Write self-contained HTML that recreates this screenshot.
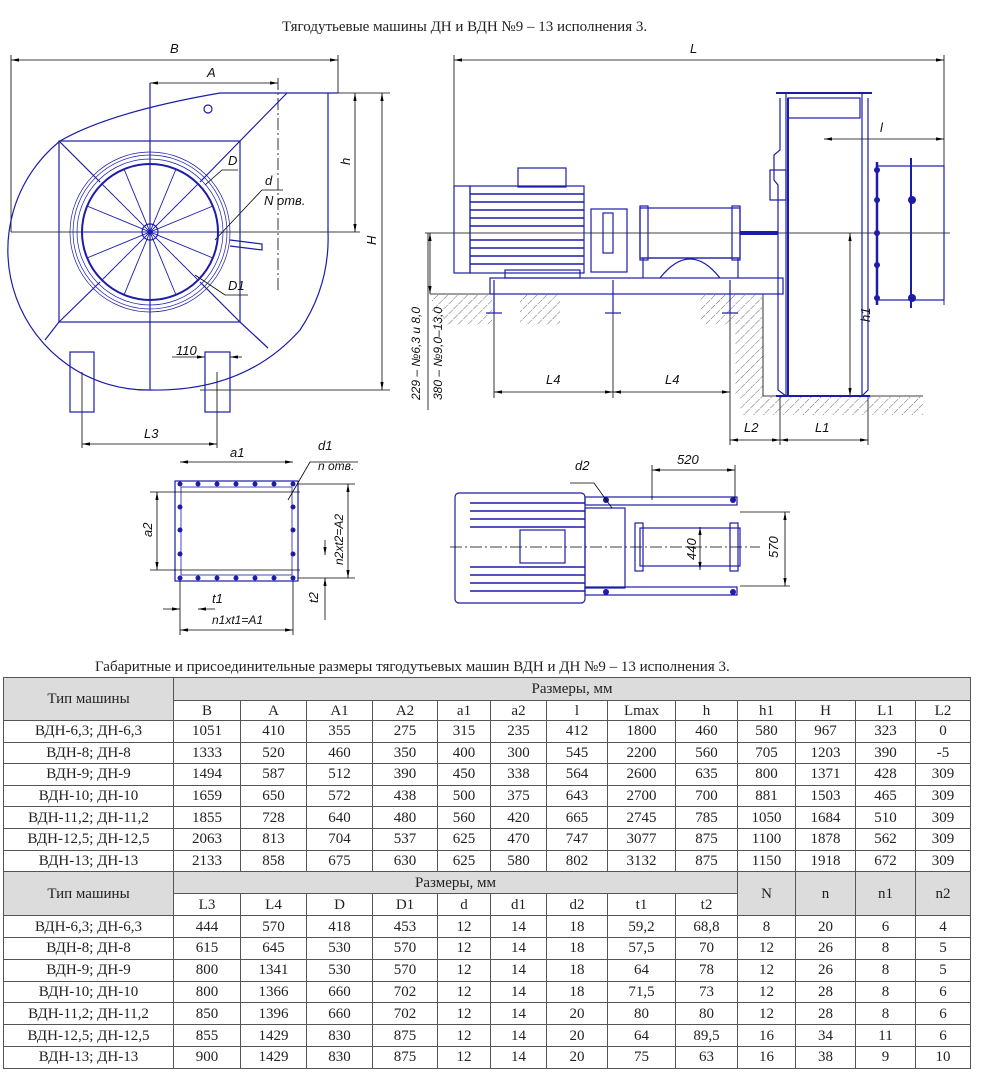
<!DOCTYPE html>
<html><head><meta charset="utf-8">
<style>
body{margin:0;background:#fff;width:981px;height:1080px;position:relative;overflow:hidden;font-family:"Liberation Serif",serif;}
svg{position:absolute;left:0;top:0}
.t{position:absolute;font-size:15px;color:#222;white-space:nowrap}
table{position:absolute;left:3px;top:677px;border-collapse:collapse;table-layout:fixed;font-family:"Liberation Serif",serif;font-size:15px;color:#222}
td{border:1px solid #555;text-align:center;padding:0;line-height:14px}
.g{background:#dcdcdc}
</style></head><body>
<div class="t" style="left:282px;top:19px">Тягодутьевые машины ДН и ВДН №9 – 13 исполнения 3.</div>
<svg width="981" height="660" viewBox="0 0 981 660" font-family="Liberation Sans, sans-serif" font-style="italic" font-size="13">
<defs>
<pattern id="h" width="7" height="7" patternUnits="userSpaceOnUse" patternTransform="rotate(45)"><line x1="0" y1="0" x2="0" y2="7" stroke="#444" stroke-width="0.8" stroke-dasharray="3 1"/></pattern>
<marker id="a" markerWidth="10" markerHeight="6" refX="10" refY="3" orient="auto-start-reverse"><path d="M0,1 L10,3 L0,5z" fill="#000"/></marker>
</defs>
<g stroke="#000" stroke-width="0.8" fill="none">
<!-- left view dims -->
<line x1="11" y1="60" x2="338" y2="60" marker-start="url(#a)" marker-end="url(#a)"/>
<line x1="11" y1="55" x2="11" y2="232"/><line x1="338" y1="55" x2="338" y2="93"/>
<line x1="150" y1="83" x2="278" y2="83" marker-start="url(#a)" marker-end="url(#a)"/>
<line x1="278" y1="78" x2="278" y2="290" stroke-dasharray="12 3 2 3"/>
<line x1="355" y1="93" x2="355" y2="232" marker-start="url(#a)" marker-end="url(#a)"/>
<line x1="382" y1="93" x2="382" y2="390" marker-start="url(#a)" marker-end="url(#a)"/>
<line x1="328" y1="93" x2="390" y2="93"/><line x1="200" y1="390" x2="390" y2="390"/>
<line x1="82" y1="444" x2="217" y2="444" marker-start="url(#a)" marker-end="url(#a)"/>
<line x1="82" y1="372" x2="82" y2="448"/><line x1="217" y1="372" x2="217" y2="448"/>
<line x1="172" y1="357" x2="205" y2="357" marker-end="url(#a)"/><line x1="242" y1="357" x2="230" y2="357" marker-end="url(#a)"/>
<polyline points="238,170 222,170 205,185"/><polyline points="283,190 262,190 215,240"/><polyline points="248,295 225,295 195,275"/>
<!-- right view dims -->
<line x1="454" y1="60" x2="944" y2="60" marker-start="url(#a)" marker-end="url(#a)"/>
<line x1="454" y1="55" x2="454" y2="190"/><line x1="944" y1="55" x2="944" y2="305"/>
<line x1="824" y1="139" x2="944" y2="139" marker-start="url(#a)" marker-end="url(#a)"/>
<line x1="850" y1="233" x2="850" y2="396" marker-start="url(#a)" marker-end="url(#a)"/>
<line x1="494" y1="392" x2="613" y2="392" marker-start="url(#a)" marker-end="url(#a)"/>
<line x1="613" y1="392" x2="730" y2="392" marker-start="url(#a)" marker-end="url(#a)"/>
<line x1="494" y1="300" x2="494" y2="398"/><line x1="613" y1="300" x2="613" y2="398"/><line x1="730" y1="300" x2="730" y2="445"/>
<line x1="730" y1="440" x2="780" y2="440" marker-start="url(#a)" marker-end="url(#a)"/>
<line x1="780" y1="440" x2="868" y2="440" marker-start="url(#a)" marker-end="url(#a)"/>
<line x1="780" y1="396" x2="780" y2="445"/><line x1="868" y1="396" x2="868" y2="445"/>
<line x1="430" y1="233" x2="430" y2="294" marker-start="url(#a)" marker-end="url(#a)"/>
<line x1="428" y1="233" x2="428" y2="410"/>
<line x1="425" y1="233" x2="950" y2="233"/>
<line x1="11" y1="232" x2="360" y2="232"/>
<!-- ground -->
<polyline points="430,294 763,294 763,396 923,396"/>
</g>
<rect x="432" y="295" width="60" height="30" fill="url(#h)"/>
<rect x="520" y="295" width="40" height="30" fill="url(#h)"/>
<rect x="700" y="295" width="62" height="30" fill="url(#h)"/>
<rect x="735" y="325" width="28" height="72" fill="url(#h)"/>
<rect x="740" y="397" width="183" height="18" fill="url(#h)"/>
<!-- blue drawing -->
<g stroke="#1c1ca8" stroke-width="1.2" fill="none">
<path d="M338,93 L220,93 Q110,112 60,141 A140 140 0 0 0 150,390 Q245,392 300,330 Q330,285 328,232 L328,93"/>
<rect x="59" y="141" width="181" height="181"/>
<line x1="240" y1="141" x2="287" y2="93"/><line x1="240" y1="322" x2="268" y2="348"/><line x1="59" y1="322" x2="45" y2="340"/>
<line x1="59" y1="141" x2="100" y2="182"/><line x1="240" y1="141" x2="200" y2="182"/><line x1="59" y1="322" x2="100" y2="282"/><line x1="240" y1="322" x2="200" y2="282"/>
<line x1="150" y1="83" x2="150" y2="390"/>
<circle cx="150" cy="232" r="80" stroke-width="0.7"/><circle cx="150" cy="232" r="77" stroke-width="0.7"/><circle cx="150" cy="232" r="73" stroke-width="0.7"/><circle cx="150" cy="232" r="68" stroke-width="2"/>
<circle cx="150" cy="232" r="8"/><circle cx="208" cy="109" r="4"/>
<g stroke-width="0.9">
<line x1="150" y1="164" x2="150" y2="300"/><line x1="82" y1="232" x2="218" y2="232"/>
<line x1="124" y1="169" x2="176" y2="295"/><line x1="176" y1="169" x2="124" y2="295"/>
<line x1="87" y1="206" x2="213" y2="258"/><line x1="213" y1="206" x2="87" y2="258"/>
<line x1="102" y1="184" x2="198" y2="280"/><line x1="198" y1="184" x2="102" y2="280"/>
</g>
<polyline points="230,240 262,244 262,250 230,246"/>
<rect x="70" y="352" width="24" height="60"/><rect x="205" y="352" width="25" height="60"/>
<!-- motor -->
<rect x="454" y="186" width="16" height="87"/><rect x="470" y="186" width="114" height="87"/>
<rect x="518" y="168" width="48" height="19"/>
<g stroke-width="1.4"><line x1="470" y1="194" x2="584" y2="194"/><line x1="470" y1="202" x2="584" y2="202"/><line x1="470" y1="210" x2="584" y2="210"/><line x1="470" y1="218" x2="584" y2="218"/><line x1="470" y1="226" x2="584" y2="226"/><line x1="470" y1="240" x2="584" y2="240"/><line x1="470" y1="248" x2="584" y2="248"/><line x1="470" y1="256" x2="584" y2="256"/><line x1="470" y1="264" x2="584" y2="264"/></g>
<rect x="505" y="270" width="75" height="8"/>
<rect x="591" y="209" width="36" height="63"/><rect x="603" y="213" width="10" height="40"/>
<rect x="640" y="208" width="100" height="50"/><rect x="640" y="206" width="8" height="54"/><rect x="732" y="206" width="8" height="54"/>
<path d="M643,278 L643,258 L738,258 L738,278 M660,278 Q690,240 720,278"/>
<line x1="740" y1="233" x2="778" y2="233" stroke-width="4"/>
<rect x="490" y="278" width="293" height="16"/>
<line x1="494" y1="280" x2="494" y2="313"/><line x1="613" y1="280" x2="613" y2="313"/><line x1="730" y1="280" x2="730" y2="313"/>
<line x1="486" y1="313" x2="502" y2="313"/><line x1="605" y1="313" x2="621" y2="313"/><line x1="722" y1="313" x2="738" y2="313"/>
<!-- fan -->
<line x1="776" y1="93" x2="872" y2="93" stroke-width="2"/>
<rect x="786" y="93" width="76" height="303"/><rect x="788" y="98" width="72" height="20"/>
<path d="M780,98 L780,150 L774,155 L774,180 L778,185 L778,390 L786,396"/>
<path d="M868,98 L868,390 L862,396"/>
<line x1="788" y1="98" x2="788" y2="396" stroke-width="2"/>
<rect x="770" y="170" width="16" height="30"/>
<line x1="877" y1="162" x2="877" y2="305" stroke-width="2.5"/>
<rect x="877" y="166" width="67" height="134"/>
<line x1="911" y1="158" x2="911" y2="308" stroke-width="2"/>
<line x1="776" y1="396" x2="870" y2="396" stroke-width="2"/>
<!-- flange bottom left -->
<rect x="175" y="481" width="123" height="100"/><rect x="181" y="487" width="111" height="88" stroke-width="0.8"/>
<!-- top view -->
<rect x="455" y="493" width="130" height="110" rx="4"/>
<g stroke-width="1.4"><line x1="470" y1="503" x2="585" y2="503"/><line x1="470" y1="511" x2="585" y2="511"/><line x1="470" y1="519" x2="585" y2="519"/><line x1="470" y1="527" x2="585" y2="527"/><line x1="470" y1="567" x2="585" y2="567"/><line x1="470" y1="575" x2="585" y2="575"/><line x1="470" y1="583" x2="585" y2="583"/><line x1="470" y1="591" x2="585" y2="591"/></g>
<rect x="520" y="530" width="45" height="33"/>
<rect x="585" y="508" width="40" height="80"/>
<rect x="585" y="497" width="152" height="8"/><rect x="585" y="587" width="152" height="8"/>
<rect x="640" y="528" width="100" height="38"/><rect x="635" y="523" width="8" height="48"/><rect x="730" y="523" width="8" height="48"/>
</g>
<g fill="#1c1ca8">
<circle cx="180" cy="484" r="2.5"/><circle cx="198" cy="484" r="2.5"/><circle cx="217" cy="484" r="2.5"/><circle cx="236" cy="484" r="2.5"/><circle cx="255" cy="484" r="2.5"/><circle cx="274" cy="484" r="2.5"/><circle cx="293" cy="484" r="2.5"/>
<circle cx="180" cy="578" r="2.5"/><circle cx="198" cy="578" r="2.5"/><circle cx="217" cy="578" r="2.5"/><circle cx="236" cy="578" r="2.5"/><circle cx="255" cy="578" r="2.5"/><circle cx="274" cy="578" r="2.5"/><circle cx="293" cy="578" r="2.5"/>
<circle cx="180" cy="507" r="2.5"/><circle cx="180" cy="530" r="2.5"/><circle cx="180" cy="554" r="2.5"/><circle cx="293" cy="507" r="2.5"/><circle cx="293" cy="530" r="2.5"/><circle cx="293" cy="554" r="2.5"/>
<circle cx="877" cy="170" r="3"/><circle cx="877" cy="200" r="3"/><circle cx="877" cy="233" r="3"/><circle cx="877" cy="265" r="3"/><circle cx="877" cy="298" r="3"/>
<circle cx="912" cy="200" r="4"/><circle cx="912" cy="298" r="4"/>
<circle cx="606" cy="500" r="3"/><circle cx="606" cy="592" r="3"/><circle cx="733" cy="500" r="3"/><circle cx="733" cy="592" r="3"/>
</g>
<g stroke="#000" stroke-width="0.8" fill="none">
<line x1="180" y1="462" x2="293" y2="462" marker-start="url(#a)" marker-end="url(#a)"/>
<line x1="157" y1="492" x2="157" y2="570" marker-start="url(#a)" marker-end="url(#a)"/>
<line x1="150" y1="492" x2="300" y2="492"/><line x1="150" y1="570" x2="300" y2="570"/>
<line x1="348" y1="484" x2="348" y2="578" marker-start="url(#a)" marker-end="url(#a)"/>
<line x1="298" y1="484" x2="355" y2="484"/><line x1="298" y1="578" x2="355" y2="578"/>
<line x1="180" y1="630" x2="293" y2="630" marker-start="url(#a)" marker-end="url(#a)"/>
<line x1="180" y1="581" x2="180" y2="635"/><line x1="293" y1="581" x2="293" y2="635"/>
<line x1="163" y1="609" x2="180" y2="609" marker-end="url(#a)"/><line x1="215" y1="609" x2="198" y2="609" marker-end="url(#a)"/>
<line x1="325" y1="540" x2="325" y2="555" marker-end="url(#a)"/><line x1="325" y1="620" x2="325" y2="578" marker-end="url(#a)"/>
<polyline points="358,462 310,462 288,500"/>
<line x1="652" y1="470" x2="735" y2="470" marker-start="url(#a)" marker-end="url(#a)"/>
<line x1="652" y1="465" x2="652" y2="500"/><line x1="735" y1="465" x2="735" y2="500"/>
<line x1="700" y1="527" x2="700" y2="570" marker-start="url(#a)" marker-end="url(#a)"/>
<line x1="785" y1="512" x2="785" y2="586" marker-start="url(#a)" marker-end="url(#a)"/>
<line x1="740" y1="512" x2="790" y2="512"/><line x1="740" y1="586" x2="790" y2="586"/>
<polyline points="570,483 594,483 612,508"/>
<line x1="450" y1="547" x2="760" y2="547" stroke-dasharray="12 3 2 3"/>
</g>
<g fill="#111">
<text x="170" y="53">B</text><text x="207" y="77">A</text><text x="690" y="53">L</text><text x="880" y="132">l</text>
<text x="228" y="165">D</text><text x="265" y="185">d</text><text x="264" y="205">N отв.</text><text x="228" y="290">D1</text>
<text x="176" y="355">110</text><text x="144" y="438">L3</text>
<text x="546" y="384">L4</text><text x="665" y="384">L4</text><text x="744" y="432">L2</text><text x="815" y="432">L1</text>
<text transform="translate(350,165) rotate(-90)">h</text><text transform="translate(376,245) rotate(-90)">H</text><text transform="translate(870,322) rotate(-90)">h1</text>
<text transform="translate(420,400) rotate(-90)" font-size="12">229 – №6,3 и 8,0</text>
<text transform="translate(442,400) rotate(-90)" font-size="12">380 – №9,0–13,0</text>
<text x="230" y="457">a1</text><text x="318" y="450">d1</text><text x="318" y="470" font-size="12">n отв.</text>
<text transform="translate(152,537) rotate(-90)">a2</text><text transform="translate(343,565) rotate(-90)" font-size="12">n2xt2=A2</text>
<text transform="translate(318,603) rotate(-90)">t2</text><text x="212" y="603">t1</text><text x="212" y="624" font-size="12">n1xt1=A1</text>
<text x="575" y="470">d2</text><text x="677" y="464">520</text>
<text transform="translate(696,560) rotate(-90)">440</text><text transform="translate(778,558) rotate(-90)">570</text>
</g>
</svg>
<div class="t" style="left:95px;top:659px">Габаритные и присоединительные размеры тягодутьевых машин ВДН и ДН №9 – 13 исполнения 3.</div>
<table>
<colgroup><col style="width:170px"><col style="width:67px"><col style="width:66px"><col style="width:66px"><col style="width:65px"><col style="width:53px"><col style="width:56px"><col style="width:61px"><col style="width:68px"><col style="width:62px"><col style="width:58px"><col style="width:60px"><col style="width:60px"><col style="width:55px"></colgroup>
<tr style="height:23px"><td class="g" rowspan="2">Тип машины</td><td class="g" colspan="13">Размеры, мм</td></tr>
<tr style="height:20px"><td>B</td><td>A</td><td>A1</td><td>A2</td><td>a1</td><td>a2</td><td>l</td><td>Lmax</td><td>h</td><td>h1</td><td>H</td><td>L1</td><td>L2</td></tr>
<tr style="height:21.6px"><td>ВДН-6,3; ДН-6,3</td><td>1051</td><td>410</td><td>355</td><td>275</td><td>315</td><td>235</td><td>412</td><td>1800</td><td>460</td><td>580</td><td>967</td><td>323</td><td>0</td></tr>
<tr style="height:21.6px"><td>ВДН-8; ДН-8</td><td>1333</td><td>520</td><td>460</td><td>350</td><td>400</td><td>300</td><td>545</td><td>2200</td><td>560</td><td>705</td><td>1203</td><td>390</td><td>-5</td></tr>
<tr style="height:21.6px"><td>ВДН-9; ДН-9</td><td>1494</td><td>587</td><td>512</td><td>390</td><td>450</td><td>338</td><td>564</td><td>2600</td><td>635</td><td>800</td><td>1371</td><td>428</td><td>309</td></tr>
<tr style="height:21.6px"><td>ВДН-10; ДН-10</td><td>1659</td><td>650</td><td>572</td><td>438</td><td>500</td><td>375</td><td>643</td><td>2700</td><td>700</td><td>881</td><td>1503</td><td>465</td><td>309</td></tr>
<tr style="height:21.6px"><td>ВДН-11,2; ДН-11,2</td><td>1855</td><td>728</td><td>640</td><td>480</td><td>560</td><td>420</td><td>665</td><td>2745</td><td>785</td><td>1050</td><td>1684</td><td>510</td><td>309</td></tr>
<tr style="height:21.6px"><td>ВДН-12,5; ДН-12,5</td><td>2063</td><td>813</td><td>704</td><td>537</td><td>625</td><td>470</td><td>747</td><td>3077</td><td>875</td><td>1100</td><td>1878</td><td>562</td><td>309</td></tr>
<tr style="height:21.6px"><td>ВДН-13; ДН-13</td><td>2133</td><td>858</td><td>675</td><td>630</td><td>625</td><td>580</td><td>802</td><td>3132</td><td>875</td><td>1150</td><td>1918</td><td>672</td><td>309</td></tr>
<tr style="height:22px"><td class="g" rowspan="2">Тип машины</td><td class="g" colspan="9">Размеры, мм</td><td class="g" rowspan="2">N</td><td class="g" rowspan="2">n</td><td class="g" rowspan="2">n1</td><td class="g" rowspan="2">n2</td></tr>
<tr style="height:22px"><td>L3</td><td>L4</td><td>D</td><td>D1</td><td>d</td><td>d1</td><td>d2</td><td>t1</td><td>t2</td></tr>
<tr style="height:21.8px"><td>ВДН-6,3; ДН-6,3</td><td>444</td><td>570</td><td>418</td><td>453</td><td>12</td><td>14</td><td>18</td><td>59,2</td><td>68,8</td><td>8</td><td>20</td><td>6</td><td>4</td></tr>
<tr style="height:21.8px"><td>ВДН-8; ДН-8</td><td>615</td><td>645</td><td>530</td><td>570</td><td>12</td><td>14</td><td>18</td><td>57,5</td><td>70</td><td>12</td><td>26</td><td>8</td><td>5</td></tr>
<tr style="height:21.8px"><td>ВДН-9; ДН-9</td><td>800</td><td>1341</td><td>530</td><td>570</td><td>12</td><td>14</td><td>18</td><td>64</td><td>78</td><td>12</td><td>26</td><td>8</td><td>5</td></tr>
<tr style="height:21.8px"><td>ВДН-10; ДН-10</td><td>800</td><td>1366</td><td>660</td><td>702</td><td>12</td><td>14</td><td>18</td><td>71,5</td><td>73</td><td>12</td><td>28</td><td>8</td><td>6</td></tr>
<tr style="height:21.8px"><td>ВДН-11,2; ДН-11,2</td><td>850</td><td>1396</td><td>660</td><td>702</td><td>12</td><td>14</td><td>20</td><td>80</td><td>80</td><td>12</td><td>28</td><td>8</td><td>6</td></tr>
<tr style="height:21.8px"><td>ВДН-12,5; ДН-12,5</td><td>855</td><td>1429</td><td>830</td><td>875</td><td>12</td><td>14</td><td>20</td><td>64</td><td>89,5</td><td>16</td><td>34</td><td>11</td><td>6</td></tr>
<tr style="height:21.8px"><td>ВДН-13; ДН-13</td><td>900</td><td>1429</td><td>830</td><td>875</td><td>12</td><td>14</td><td>20</td><td>75</td><td>63</td><td>16</td><td>38</td><td>9</td><td>10</td></tr>
</table>
</body></html>
